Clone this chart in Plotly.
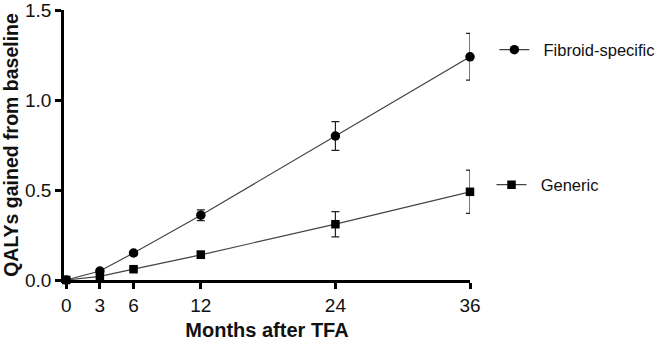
import plotly.graph_objects as go

months = [0, 3, 6, 12, 24, 36]
fibroid = [0.0, 0.05, 0.15, 0.36, 0.80, 1.24]
fibroid_err = [0.0, 0.01, 0.01, 0.03, 0.08, 0.13]
generic = [0.0, 0.02, 0.06, 0.14, 0.31, 0.49]
generic_err = [0.0, 0.01, 0.01, 0.02, 0.07, 0.12]
series_names = ["Fibroid-specific", "Generic"]
x_ticks = [0, 3, 6, 12, 24, 36]
y_ticks = [0.0, 0.5, 1.0, 1.5]
y_tick_labels = ["0.0", "0.5", "1.0", "1.5"]

line_col = "#444444"
mk_col = "#000000"
font = "Liberation Sans, Arial, sans-serif"
pad = "\u00a0\u00a0"

fig = go.Figure()
fig.add_trace(go.Scatter(
    x=months, y=fibroid, name=pad + series_names[0], mode="lines+markers",
    line=dict(color=line_col, width=1.2),
    marker=dict(symbol="circle", size=9.5, color=mk_col),
    error_y=dict(type="data", array=fibroid_err, visible=True, color="#222222", thickness=1.2, width=4),
    cliponaxis=False, legend="legend", showlegend=True,
))
fig.add_trace(go.Scatter(
    x=months, y=generic, name=pad + series_names[1], mode="lines+markers",
    line=dict(color=line_col, width=1.2),
    marker=dict(symbol="square", size=8.5, color=mk_col),
    error_y=dict(type="data", array=generic_err, visible=True, color="#222222", thickness=1.2, width=4),
    cliponaxis=False, legend="legend2", showlegend=True,
))

fig.update_layout(
    width=657, height=341,
    margin=dict(l=64, r=187, t=10, b=61, autoexpand=False),
    showlegend=True,
    plot_bgcolor="white", paper_bgcolor="white",
    font=dict(family=font, color="#111111", size=19),
    legend=dict(x=1.06, y=0.852, xanchor="left", yanchor="middle",
                font=dict(size=16.5, color="#111111"), bgcolor="rgba(0,0,0,0)"),
    legend2=dict(x=1.053, y=0.352, xanchor="left", yanchor="middle",
                 font=dict(size=16.5, color="#111111"), bgcolor="rgba(0,0,0,0)"),
    xaxis=dict(
        range=[-0.2, 36], tickvals=x_ticks, ticktext=[str(t) for t in x_ticks],
        showgrid=False, zeroline=False, showline=True, linecolor="black", linewidth=2.5,
        ticks="outside", ticklen=6, tickwidth=2.5, tickcolor="black",
        tickfont=dict(size=19), automargin=False, ticklabeloverflow="allow",
        title=dict(text="<b>Months after TFA</b>", font=dict(size=20), standoff=16),
    ),
    yaxis=dict(
        range=[0, 1.5], tickvals=y_ticks, ticktext=y_tick_labels,
        showgrid=False, zeroline=False, showline=True, linecolor="black", linewidth=2.5,
        ticks="outside", ticklen=6, tickwidth=2.5, tickcolor="black",
        tickfont=dict(size=19), automargin=False, ticklabeloverflow="allow",
        title=dict(text="<b>QALYs gained from baseline</b>", font=dict(size=19.5), standoff=8),
    ),
)

fig.write_html("out.html", config={"displayModeBar": False},
               post_script="document.body.style.margin='0';")
